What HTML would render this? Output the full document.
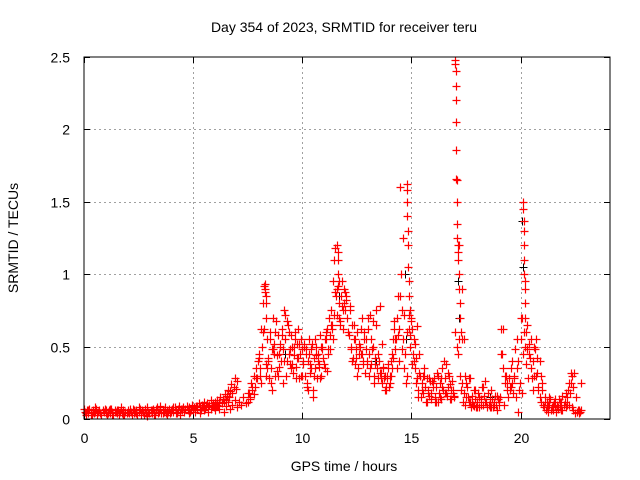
<!DOCTYPE html>
<html><head><meta charset="utf-8"><style>
body{margin:0;background:#fff}
svg{display:block;font-family:"Liberation Sans",sans-serif}
</style></head><body>
<svg id="c" width="640" height="480" xmlns="http://www.w3.org/2000/svg">
<text x="344" y="32" font-size="14" text-anchor="middle">Day 354 of 2023, SRMTID for receiver teru</text>
<text x="344" y="471" font-size="14" text-anchor="middle">GPS time / hours</text>
<text transform="translate(18,238) rotate(-90)" font-size="14" text-anchor="middle">SRMTID / TECUs</text>
<g id="grid"></g>
<g id="ticks"></g>
<g id="pts"></g>
<rect x="84" y="57" width="526" height="362" fill="none" stroke="#000" stroke-width="1"/>
</svg>
<script>
const xTicks=[0,5,10,15,20];
const yTicks=[0,0.5,1,1.5,2,2.5];
const yTickLabels=["0","0.5","1","1.5","2","2.5"];
const mainValues=[
0.07,0.04,0.06,0.03,0.05,0.08,0.04,0.06,0.03,0.05,
0.06,0.04,0.07,0.03,0.05,0.06,0.04,0.08,0.03,0.05,
0.05,0.07,0.03,0.06,0.04,0.08,0.03,0.05,0.07,0.02,
0.04,0.06,0.03,0.07,0.05,0.09,0.04,0.06,0.03,0.07,
0.05,0.08,0.04,0.06,0.03,0.07,0.05,0.09,0.04,0.06,
0.07,0.05,0.09,0.04,0.08,0.06,0.10,0.05,0.07,0.09,
0.06,0.10,0.07,0.11,0.05,0.09,0.12,0.07,0.10,0.13,
0.08,0.12,0.10,0.15,0.11,0.18,0.14,0.22,0.17,0.28,
0.42,0.25,0.60,0.88,0.35,0.55,0.20,0.45,0.68,0.30,
0.52,0.25,0.72,0.40,0.60,0.35,0.50,0.28,0.62,0.45,
0.30,0.50,0.22,0.45,0.35,0.15,0.55,0.40,0.28,0.50,
0.38,0.60,0.45,0.65,0.55,1.18,0.90,0.70,0.95,0.80,
0.85,0.60,0.75,0.40,0.55,0.30,0.45,0.62,0.38,0.55,
0.70,0.35,0.48,0.25,0.75,0.40,0.28,0.35,0.20,0.30,
0.25,0.45,0.68,0.55,0.85,1.60,1.25,0.45,0.30,0.62,
0.70,0.40,0.25,0.15,0.30,0.20,0.35,0.12,0.28,0.18,
0.25,0.12,0.30,0.15,0.22,0.40,0.18,0.32,0.14,0.20,
2.48,1.65,1.20,0.90,0.55,0.25,0.15,0.28,0.12,0.20,
0.08,0.15,0.10,0.22,0.12,0.18,0.08,0.14,0.10,0.16,
0.12,0.45,0.62,0.30,0.25,0.20,0.40,0.28,0.15,0.05,
0.70,1.50,0.95,0.65,0.45,0.55,0.50,0.30,0.20,0.40,
0.25,0.12,0.08,0.15,0.06,0.10,0.14,0.08,0.12,0.16,
0.10,0.18,0.25,0.32,0.06,0.04,0.05,0.06];
const mainStart=0.0, mainStep=0.1;
const baseValues=[
0.05,0.03,0.06,0.04,0.07,0.05,0.03,0.06,0.04,0.05,0.07,0.03,0.05,0.06,0.04,0.03,0.06,0.05,0.07,0.04,
0.03,0.05,0.06,0.04,0.07,0.05,0.03,0.06,0.05,0.04,0.06,0.03,0.05,0.07,0.04,0.06,0.03,0.05,0.04,0.06,
0.04,0.06,0.05,0.03,0.07,0.04,0.05,0.06,0.03,0.05,0.07,0.04,0.06,0.05,0.03,0.06,0.04,0.08,0.05,0.04,
0.06,0.04,0.07,0.05,0.03,0.06,0.08,0.04,0.05,0.07,0.04,0.06,0.05,0.08,0.04,0.06,0.05,0.07,0.04,0.06,
0.07,0.05,0.08,0.06,0.04,0.07,0.09,0.05,0.07,0.06,0.08,0.05,0.07,0.09,0.06,0.08,0.05,0.07,0.10,0.06,
0.08,0.06,0.09,0.07,0.11,0.08,0.06,0.10,0.08,0.12,0.07,0.09,0.11,0.08,0.10,0.13,0.09,0.11,0.08,0.12,
0.10,0.13,0.09,0.12,0.15,0.11,0.14,0.12,0.17,0.13,0.16,0.20,0.15,0.19,0.24,0.18,0.22,0.28,0.21,0.26];
const baseStart=0.05, baseStep=0.05;
const denseValues=[
0.12,0.18,0.15,0.25,0.20,0.30,0.22,0.35,0.28,0.40,
0.45,0.30,0.62,0.50,0.80,0.92,0.38,0.55,0.42,0.28,0.60,0.35,0.48,0.70,0.52,0.30,0.44,0.58,0.36,0.50,
0.40,0.62,0.48,0.75,0.55,0.30,0.68,0.45,0.38,0.58,0.50,0.32,0.44,0.60,0.36,0.52,0.42,0.28,0.55,0.48,
0.38,0.52,0.30,0.45,0.25,0.40,0.55,0.32,0.48,0.20,0.42,0.35,0.50,0.28,0.45,0.38,0.58,0.30,0.48,0.42,
0.35,0.55,0.62,0.48,0.70,0.58,0.75,0.65,0.95,1.10,0.88,0.72,0.92,0.80,0.68,0.85,0.78,0.62,0.90,0.75,
0.82,0.70,0.58,0.78,0.50,0.65,0.42,0.55,0.38,0.48,0.60,0.35,0.52,0.45,0.70,0.40,0.55,0.32,0.48,0.38,
0.62,0.45,0.72,0.38,0.50,0.30,0.42,0.65,0.35,0.28,0.40,0.78,0.32,0.25,0.36,0.30,0.20,0.28,0.35,0.22,
0.30,0.40,0.35,0.55,0.62,0.48,0.70,0.58,0.40,0.85,1.00,0.75,0.55,0.35,0.45,0.25,0.60,0.72,0.50,0.68,
0.62,0.45,0.55,0.35,0.42,0.28,0.20,0.32,0.15,0.25,0.18,0.30,0.22,0.12,0.28,0.20,0.16,0.26,0.14,0.22,
0.28,0.15,0.22,0.32,0.12,0.18,0.25,0.14,0.35,0.20,0.28,0.38,0.16,0.22,0.30,0.14,0.20,0.26,0.18,0.15,
0.60,0.50,0.45,0.55,0.30,0.20,0.25,0.12,0.18,0.10,0.15,0.22,0.28,0.12,0.08,0.16,0.10,0.20,0.14,0.08,
0.12,0.18,0.08,0.14,0.22,0.10,0.16,0.26,0.12,0.08,0.18,0.10,0.14,0.20,0.08,0.12,0.16,0.10,0.06,0.14,
0.10,0.15,0.62,0.45,0.35,0.25,0.30,0.20,0.15,0.28,0.22,0.35,0.25,0.18,0.30,0.48,0.55,0.40,0.20,0.25,
0.55,0.70,0.45,0.60,0.50,0.38,0.48,0.52,0.42,0.35,0.28,0.40,0.30,0.48,0.55,0.32,0.22,0.15,0.12,0.20,
0.10,0.08,0.15,0.06,0.12,0.05,0.10,0.14,0.08,0.06,0.12,0.09,0.05,0.10,0.07,0.14,0.08,0.12,0.06,0.10,
0.12,0.08,0.15,0.20,0.10,0.18,0.25,0.30,0.22,0.32,0.15,0.05,0.06,0.04,0.05,0.06];
const denseStart=7.52, denseStep=0.05;
const fillHours=[8.05,8.15,8.25,8.35,8.45,8.55,8.65,8.75,8.85,8.95,9.05,9.15,9.25,9.35,9.45,9.55,9.65,9.75,9.85,9.95,10.05,10.15,10.25,10.35,10.45,10.55,10.65,10.75,10.85,10.95,11.05,11.15,11.25,11.35,11.45,11.55,11.65,11.75,11.85,11.95,12.05,12.15,12.25,12.35,12.45,12.55,12.65,12.75,12.85,12.95,13.05,13.15,13.25,13.35,13.45,13.55,13.65,13.75,13.85,13.95,14.05,14.15,14.25,14.35,14.45,14.55,14.65,14.95,15.05,15.15,15.25,15.35,15.55,15.75,15.95,16.15,16.35,16.55,16.75,16.95,17.45,17.65,17.85,18.05,18.35,18.65,18.95,19.25,19.55,19.85,20.05,20.35,20.55,20.75,20.95,21.25,21.55,21.85,22.15,22.35,22.55,22.75];
const fillValues=[0.35,0.50,0.62,0.30,0.40,0.25,0.48,0.60,0.33,0.45,0.58,0.40,0.30,0.65,0.48,0.38,0.55,0.42,0.52,0.30,0.40,0.48,0.20,0.38,0.52,0.30,0.44,0.36,0.50,0.42,0.55,0.33,0.48,0.62,0.72,0.85,0.92,0.65,0.75,0.88,0.70,0.58,0.48,0.65,0.42,0.35,0.50,0.45,0.60,0.40,0.30,0.55,0.68,0.38,0.45,0.32,0.52,0.28,0.22,0.38,0.30,0.42,0.55,0.35,0.62,0.48,0.72,0.58,0.38,0.52,0.64,0.45,0.30,0.18,0.26,0.12,0.28,0.18,0.24,0.16,0.30,0.12,0.09,0.18,0.12,0.08,0.14,0.10,0.22,0.35,0.18,0.28,0.20,0.42,0.30,0.10,0.12,0.06,0.10,0.08,0.15,0.25];
const peakHours=[17.02,17.02,17.03,17.03,17.04,17.04,17.05,17.06,17.07,17.08,17.1,17.12,17.12,17.15,17.18,17.2,17.22,17.25,17.28,17.3,
14.78,14.8,14.8,14.82,14.83,14.85,14.86,14.88,14.9,14.92,
20.12,20.13,20.14,20.15,20.16,20.17,20.18,20.19,20.2,20.22,20.24,
11.6,11.62,11.64,11.66,11.68,8.28,8.3,8.32,8.34,8.36];
const peakValues=[2.48,2.45,2.40,2.30,2.20,2.05,1.86,1.66,1.50,1.35,1.25,1.20,1.15,1.10,1.00,0.90,0.80,0.70,0.60,0.55,
1.62,1.58,1.50,1.40,1.30,1.20,1.05,0.95,0.85,0.75,
1.50,1.45,1.37,1.30,1.20,1.10,1.00,0.90,0.80,0.70,0.60,
1.20,1.15,1.10,1.00,0.95,0.93,0.90,0.85,0.80,0.70];
const blackHours=[14.72,14.76,17.14,17.18,20.08,20.12,11.7,12.1,13.4,9.2,18.6,21.5];
const blackValues=[1.00,0.55,0.95,0.70,1.37,1.05,0.85,0.60,0.40,0.45,0.15,0.10];

const X0=84,X1=610,Y0=419,Y1=57,XMAX=24.1,YMAX=2.5;
const sx=t=>X0+t/XMAX*(X1-X0);
const sy=v=>Y0-v/YMAX*(Y0-Y1);
const NS="http://www.w3.org/2000/svg";
const grid=document.getElementById('grid'),ticks=document.getElementById('ticks'),pts=document.getElementById('pts');
function mk(tag,attrs,parent){const e=document.createElementNS(NS,tag);for(const k in attrs)e.setAttribute(k,attrs[k]);parent.appendChild(e);return e;}
yTicks.forEach((v,i)=>{
  const y=Math.round(sy(v))+0.5;
  if(v>0&&v<YMAX){const g=mk('line',{x1:X0,x2:X1,y1:y,y2:y,stroke:'#a0a0a0','stroke-dasharray':'2,3'},grid);
  
  }
  const tk=mk('path',{d:`M${X0},${y}h6M${X1},${y}h-6`,stroke:'#000'},ticks);
  
  
  const t=mk('text',{x:70,y:y+5,'font-size':14,'text-anchor':'end'},ticks);
  t.textContent=yTickLabels[i];
  
  
});
xTicks.forEach(v=>{
  const x=Math.round(sx(v))+0.5;
  if(v>0){const g=mk('line',{x1:x,x2:x,y1:Y0,y2:Y1,stroke:'#a0a0a0','stroke-dasharray':'2,3'},grid);
  
  }
  const tk=mk('path',{d:`M${x},${Y0}v-6M${x},${Y1}v6`,stroke:'#000'},ticks);
  
  
  const t=mk('text',{x:x,y:443,'font-size':14,'text-anchor':'middle'},ticks);
  t.textContent=String(v);
  
  
});
function plus(t,v){const x=Math.round(sx(t))+0.5,y=Math.round(sy(v))+0.5;return `M${x-4},${y}h8M${x},${y-4}v8`;}
let bd='';blackHours.forEach((t,i)=>{bd+=plus(t,blackValues[i]);});
const bp=mk('path',{d:bd,stroke:'#000',fill:'none','stroke-width':1},pts);


let rd='';
mainValues.forEach((v,i)=>{rd+=plus(mainStart+i*mainStep,v);});
baseValues.forEach((v,i)=>{rd+=plus(baseStart+i*baseStep,v);});
denseValues.forEach((v,i)=>{rd+=plus(denseStart+i*denseStep,v);});
fillHours.forEach((t,i)=>{rd+=plus(t,fillValues[i]);});
peakHours.forEach((t,i)=>{rd+=plus(t,peakValues[i]);});
const rp=mk('path',{d:rd,stroke:'#ff0000',fill:'none','stroke-width':1.2},pts);


</script>
</body></html>
